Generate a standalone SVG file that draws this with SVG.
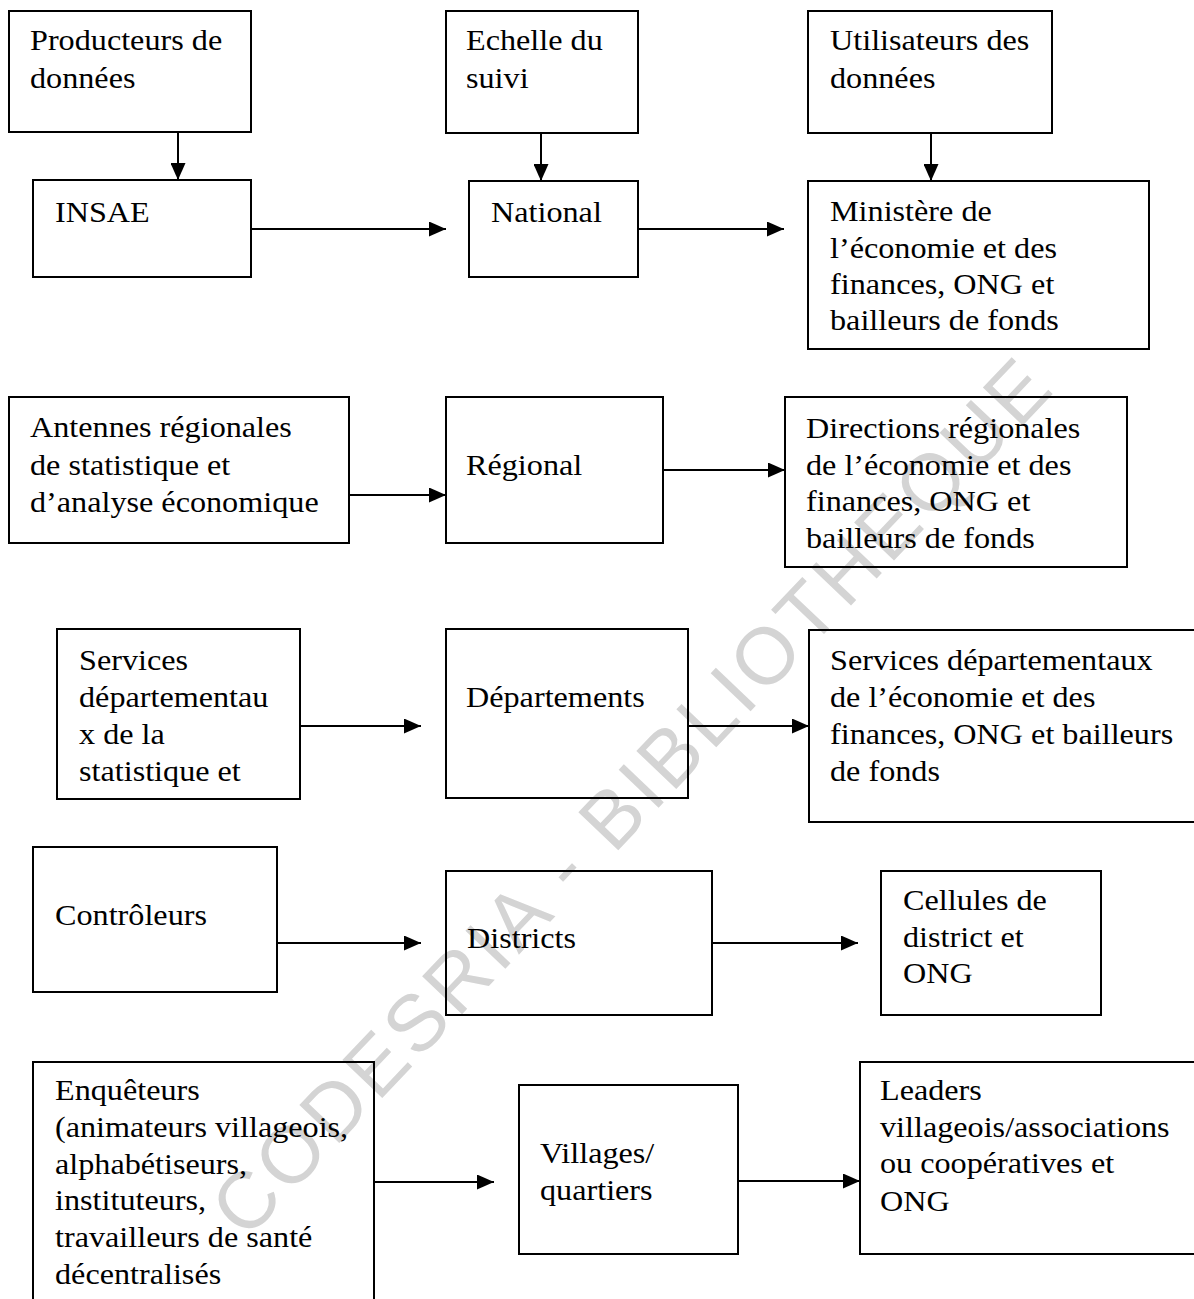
<svg xmlns="http://www.w3.org/2000/svg" width="1194" height="1299" viewBox="0 0 1194 1299">
<style>
.box{fill:none;stroke:#000;stroke-width:2}
.lbl{font-family:"Liberation Serif","Times New Roman",serif;font-size:28.5px;fill:#000}
.con{stroke:#000;stroke-width:2;fill:none;marker-end:url(#ah)}
.wm{font-family:"Liberation Sans",Arial,sans-serif;font-size:80px;fill:#d4d4d4}
</style>
<defs>
<marker id="ah" markerUnits="userSpaceOnUse" markerWidth="17" markerHeight="15" refX="17" refY="7.5" orient="auto">
<path d="M0,0 L17,7.5 L0,15 z" fill="#000"/>
</marker>
</defs>
<rect width="1194" height="1299" fill="#fff"/>
<text class="wm" transform="translate(246,1241) rotate(-46.4)" textLength="1173" lengthAdjust="spacing">CODESRIA - BIBLIOTHEQUE</text>

<g id="producteurs"><rect class="box" x="9" y="11" width="242" height="121"/>
<text class="lbl" transform="translate(30,50) scale(1.13,1)"><tspan x="0" y="0">Producteurs de</tspan><tspan x="0" y="38">données</tspan></text></g>
<g id="echelle"><rect class="box" x="446" y="11" width="192" height="122"/>
<text class="lbl" transform="translate(466,50) scale(1.13,1)"><tspan x="0" y="0">Echelle du</tspan><tspan x="0" y="38">suivi</tspan></text></g>
<g id="utilisateurs"><rect class="box" x="808" y="11" width="244" height="122"/>
<text class="lbl" transform="translate(830,50) scale(1.13,1)"><tspan x="0" y="0">Utilisateurs des</tspan><tspan x="0" y="38">données</tspan></text></g>

<g id="insae"><rect class="box" x="33" y="180" width="218" height="97"/>
<text class="lbl" transform="translate(55,222) scale(1.13,1)">INSAE</text></g>
<g id="national"><rect class="box" x="469" y="181" width="169" height="96"/>
<text class="lbl" transform="translate(491,222) scale(1.13,1)">National</text></g>
<g id="ministere"><rect class="box" x="808" y="181" width="341" height="168"/>
<text class="lbl" transform="translate(830,221) scale(1.13,1)"><tspan x="0" y="0">Ministère de</tspan><tspan x="0" y="37">l’économie et des</tspan><tspan x="0" y="73">finances, ONG et</tspan><tspan x="0" y="109">bailleurs de fonds</tspan></text></g>

<g id="antennes"><rect class="box" x="9" y="397" width="340" height="146"/>
<text class="lbl" transform="translate(30,437) scale(1.13,1)"><tspan x="0" y="0">Antennes régionales</tspan><tspan x="0" y="38">de statistique et</tspan><tspan x="0" y="75">d’analyse économique</tspan></text></g>
<g id="regional"><rect class="box" x="446" y="397" width="217" height="146"/>
<text class="lbl" transform="translate(466,475) scale(1.13,1)">Régional</text></g>
<g id="directions"><rect class="box" x="785" y="397" width="342" height="170"/>
<text class="lbl" transform="translate(806,438) scale(1.13,1)"><tspan x="0" y="0">Directions régionales</tspan><tspan x="0" y="37">de l’économie et des</tspan><tspan x="0" y="73">finances, ONG et</tspan><tspan x="0" y="110">bailleurs de fonds</tspan></text></g>

<g id="services-stat"><rect class="box" x="57" y="629" width="243" height="170"/>
<text class="lbl" transform="translate(79,670) scale(1.13,1)"><tspan x="0" y="0">Services</tspan><tspan x="0" y="37">départementau</tspan><tspan x="0" y="74">x de la</tspan><tspan x="0" y="111">statistique et</tspan></text></g>
<g id="departements"><rect class="box" x="446" y="629" width="242" height="169"/>
<text class="lbl" transform="translate(466,707) scale(1.13,1)">Départements</text></g>
<g id="services-dep"><rect class="box" x="809" y="630" width="400" height="192"/>
<text class="lbl" transform="translate(830,670) scale(1.13,1)"><tspan x="0" y="0">Services départementaux</tspan><tspan x="0" y="37">de l’économie et des</tspan><tspan x="0" y="74">finances, ONG et bailleurs</tspan><tspan x="0" y="111">de fonds</tspan></text></g>

<g id="controleurs"><rect class="box" x="33" y="847" width="244" height="145"/>
<text class="lbl" transform="translate(55,925) scale(1.13,1)">Contrôleurs</text></g>
<g id="districts"><rect class="box" x="446" y="871" width="266" height="144"/>
<text class="lbl" transform="translate(467,948) scale(1.13,1)">Districts</text></g>
<g id="cellules"><rect class="box" x="881" y="871" width="220" height="144"/>
<text class="lbl" transform="translate(903,910) scale(1.13,1)"><tspan x="0" y="0">Cellules de</tspan><tspan x="0" y="37">district et</tspan><tspan x="0" y="73">ONG</tspan></text></g>

<g id="enqueteurs"><rect class="box" x="33" y="1062" width="341" height="260"/>
<text class="lbl" transform="translate(55,1100) scale(1.13,1)"><tspan x="0" y="0">Enquêteurs</tspan><tspan x="0" y="37">(animateurs villageois,</tspan><tspan x="0" y="74">alphabétiseurs,</tspan><tspan x="0" y="110">instituteurs,</tspan><tspan x="0" y="147">travailleurs de santé</tspan><tspan x="0" y="184">décentralisés</tspan></text></g>
<g id="villages"><rect class="box" x="519" y="1085" width="219" height="169"/>
<text class="lbl" transform="translate(540,1163) scale(1.13,1)"><tspan x="0" y="0">Villages/</tspan><tspan x="0" y="37">quartiers</tspan></text></g>
<g id="leaders"><rect class="box" x="860" y="1062" width="350" height="192"/>
<text class="lbl" transform="translate(880,1100) scale(1.13,1)"><tspan x="0" y="0">Leaders</tspan><tspan x="0" y="37">villageois/associations</tspan><tspan x="0" y="73">ou coopératives et</tspan><tspan x="0" y="111">ONG</tspan></text></g>

<g id="connectors">
<line class="con" x1="178" y1="132" x2="178" y2="180"/>
<line class="con" x1="541" y1="133" x2="541" y2="181"/>
<line class="con" x1="931" y1="133" x2="931" y2="181"/>
<line class="con" x1="251" y1="229" x2="446" y2="229"/>
<line class="con" x1="638" y1="229" x2="784" y2="229"/>
<line class="con" x1="349" y1="495" x2="446" y2="495"/>
<line class="con" x1="663" y1="470" x2="785" y2="470"/>
<line class="con" x1="300" y1="726" x2="421" y2="726"/>
<line class="con" x1="688" y1="726" x2="809" y2="726"/>
<line class="con" x1="277" y1="943" x2="421" y2="943"/>
<line class="con" x1="712" y1="943" x2="858" y2="943"/>
<line class="con" x1="374" y1="1182" x2="494" y2="1182"/>
<line class="con" x1="738" y1="1181" x2="860" y2="1181"/>
</g>
</svg>
